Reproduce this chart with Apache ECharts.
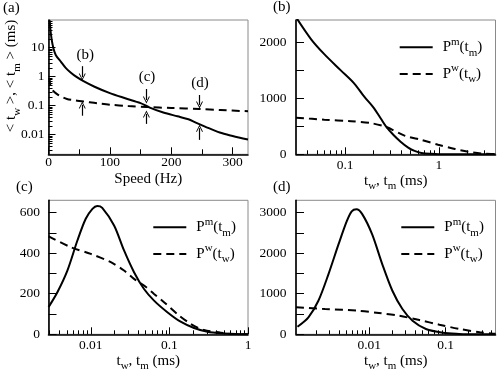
<!DOCTYPE html>
<html><head><meta charset="utf-8">
<script src="https://cdn.jsdelivr.net/npm/echarts@6/dist/echarts.min.js"></script>
<style>html,body{margin:0;padding:0;background:#fff}#c{width:498px;height:373px}</style>
</head><body><div id="c"></div>
<script>
// ---------- data ----------
// (a) mean times vs speed
const aSpeedM = [2, 3, 5, 8, 12, 20, 28, 36, 45, 57, 75, 100, 125, 150, 165, 187, 210, 228, 240, 255, 279, 300, 325];
const aTm     = [88, 45, 20, 9.5, 5.5, 3.3, 2.0, 1.4, 1.0, 0.7, 0.45, 0.27, 0.18, 0.122, 0.086, 0.058, 0.043, 0.034, 0.026, 0.019, 0.0118, 0.009, 0.0068];
const aSpeedW = [1.5, 3, 6, 10, 14, 20, 30, 40, 57, 80, 100, 130, 160, 200, 246, 280, 325];
const aTw     = [0.9, 0.5, 0.36, 0.29, 0.25, 0.21, 0.17, 0.155, 0.14, 0.12, 0.108, 0.097, 0.09, 0.083, 0.077, 0.071, 0.064];
// arrows and labels in (a)
const arrowLabels = ['(b)', '(c)', '(d)'];
const labelSpeed  = [60, 160.5, 247];
const labelVal    = [5.5, 0.97, 0.6];
const arrowSpeed  = [55, 159.5, 246];
const downFrom    = [2.3, 0.375, 0.233];
const downTo      = [0.97, 0.157, 0.106];
const upFrom      = [0.045, 0.0235, 0.0066];
const upTo        = [0.106, 0.052, 0.0167];
// (b)
const bTmT = [0.03, 0.0433, 0.06, 0.09, 0.126, 0.16, 0.2, 0.24, 0.275, 0.33, 0.39, 0.47, 0.55, 0.65, 0.83, 1.0, 1.5, 4];
const bTm  = [2450, 2060, 1790, 1500, 1260, 1030, 840, 640, 490, 340, 226, 120, 60, 25, 8, 2, 0, 0];
const bTwT = [0.03, 0.06, 0.116, 0.19, 0.275, 0.43, 0.65, 0.98, 1.48, 2.05, 2.8, 3.6, 4];
const bTw  = [655, 618, 592, 556, 487, 334, 257, 172, 95, 47, 15, 5, 3];
// (c)
const cTmT = [0.0029, 0.00304, 0.00376, 0.00504, 0.00676, 0.00863, 0.0105, 0.0121, 0.014, 0.0198, 0.0265, 0.0355, 0.0476, 0.0638, 0.0942, 0.139, 0.206, 0.304, 0.5, 0.7, 1];
const cTm  = [135, 146, 207, 314, 462, 569, 618, 632, 623, 536, 413, 306, 223, 166, 109, 62, 31, 13, 4, 1, 0];
const cTwT = [0.0029, 0.00304, 0.00557, 0.01, 0.018, 0.0265, 0.0355, 0.0476, 0.0638, 0.0855, 0.126, 0.187, 0.275, 0.45, 0.6, 1];
const cTw  = [482, 479, 429, 396, 355, 314, 273, 240, 199, 158, 100, 51, 21, 8, 2, 0];
// (d)
const dTmT = [0.00115, 0.0016, 0.00216, 0.00293, 0.00397, 0.0051, 0.0059, 0.0068, 0.0081, 0.0109, 0.0148, 0.0201, 0.0272, 0.0369, 0.0553, 0.0919, 0.15, 0.2, 0.45];
const dTm  = [187, 418, 826, 1483, 2220, 2793, 3030, 3080, 2960, 2466, 1729, 1072, 622, 334, 130, 39, 8, 2, 0];
const dTwT = [0.0011, 0.00264, 0.00728, 0.0134, 0.0246, 0.0453, 0.083, 0.153, 0.28, 0.42, 0.45];
const dTw  = [664, 622, 580, 524, 457, 352, 236, 130, 49, 15, 12];
// ticks
const aXMajor = [0, 100, 200, 300], aXMinor = [50, 150, 250];
const aYMajor = [0.01, 0.1, 1, 10];
const bXMajor = [0.1, 1], bYMajor = [0, 1000, 2000], bYMinor = [500, 1500];
const cXMajor = [0.01, 0.1, 1], cYMajor = [0, 200, 400, 600], cYMinor = [100, 300, 500];
const dXMajor = [0.01, 0.1], dYMajor = [0, 1000, 2000, 3000], dYMinor = [500, 1500, 2500];

// ---------- helpers ----------
const FONT = 'Liberation Serif';
const K = '#000';
function logMinors(min, max) {
  const out = [];
  for (let e = -4; e <= 3; e++) for (let k = 2; k <= 9; k++) {
    const v = +(k * Math.pow(10, e)).toPrecision(6);
    if (v > min * 1.001 && v < max * 0.999) out.push(v);
  }
  return out;
}
const fmt = v => String(+(+v).toPrecision(6));
function mainAxis(type, g, min, max, majors, len, margin, pos, extra) {
  return Object.assign({
    type, gridIndex: g, min, max, position: pos,
    axisLine: {show: true, onZero: false, lineStyle: {color: K, width: 1.6}},
    axisTick: {show: true, inside: true, length: len, customValues: majors, lineStyle: {color: K, width: 1}},
    axisLabel: {show: true, customValues: majors, margin, color: K, fontFamily: FONT, fontSize: 13.5, formatter: fmt},
    splitLine: {show: false}
  }, extra || {});
}
function minorAxis(type, g, min, max, minors, len, pos) {
  return {
    type, gridIndex: g, min, max, position: pos,
    axisLine: {show: false, onZero: false}, axisLabel: {show: false}, splitLine: {show: false},
    axisTick: {show: true, inside: true, length: len, customValues: minors, lineStyle: {color: K, width: 1}}
  };
}
const zip = (xs, ys) => xs.map((x, i) => [x, ys[i]]);
const subRich = {
  n: {fontFamily: FONT, fontSize: 15, lineHeight: 22, color: K},
  sb: {fontFamily: FONT, fontSize: 11, lineHeight: 10, verticalAlign: 'bottom', color: K},
  sp: {fontFamily: FONT, fontSize: 11, lineHeight: 14, verticalAlign: 'top', color: K},
  g: {width: 5, fontSize: 15, lineHeight: 22}
};
const tName = '{n|t}{sb|w}{n|, t}{sb|m}{n| (ms)}';
const SOLID = {color: K, width: 2, type: 'solid'};
const DASH = {color: K, width: 2, type: [8, 5]};
function curve(name, g, xs, ys, style) {
  return {type: 'line', name, xAxisIndex: 2 * g, yAxisIndex: 2 * g, data: zip(xs, ys),
    symbol: 'none', smooth: 0.3, lineStyle: style, itemStyle: {color: K}, silent: true, animation: false};
}
const CHEV = 'path://M0,10 L5,0 L10,10 L8.6,10 L5,2.6 L1.4,10 Z';

const grids = [
  {left: 48.5, top: 20, width: 199.5, height: 134.3},
  {left: 296, top: 20, width: 199.5, height: 134.3},
  {left: 48.5, top: 200.3, width: 199.5, height: 134},
  {left: 296, top: 200.3, width: 199.5, height: 134}
].map(g => Object.assign(g, {show: true, borderColor: '#8a8a8a', borderWidth: 1, containLabel: false, outerBoundsMode: 'none'}));

const xAxes = [
  mainAxis('value', 0, 0, 325, aXMajor, 7, 1.5, 'bottom', {name: 'Speed (Hz)', nameLocation: 'middle', nameGap: 17, nameTextStyle: {fontFamily: FONT, fontSize: 15, color: K}}),
  minorAxis('value', 0, 0, 325, aXMinor, 5, 'bottom'),
  mainAxis('log', 1, 0.03, 4, bXMajor, 7, 4, 'bottom', {name: tName, nameLocation: 'middle', nameGap: 13, nameTextStyle: {rich: subRich}}),
  minorAxis('log', 1, 0.03, 4, logMinors(0.03, 4), 4, 'bottom'),
  mainAxis('log', 2, 0.0029, 1, cXMajor, 7, 4, 'bottom', {name: tName, nameLocation: 'middle', nameGap: 10, nameTextStyle: {rich: subRich}}),
  minorAxis('log', 2, 0.0029, 1, logMinors(0.0029, 1), 4, 'bottom'),
  mainAxis('log', 3, 0.0011, 0.45, dXMajor, 7, 4, 'bottom', {name: tName, nameLocation: 'middle', nameGap: 10, nameTextStyle: {rich: subRich}}),
  minorAxis('log', 3, 0.0011, 0.45, logMinors(0.0011, 0.45), 4, 'bottom')
];
const yAxes = [
  mainAxis('log', 0, 0.0021, 90, aYMajor, 7, 4, 'left'),
  minorAxis('log', 0, 0.0021, 90, logMinors(0.0021, 90), 4, 'left'),
  mainAxis('value', 1, 0, 2400, bYMajor, 8, 9.5, 'left'),
  minorAxis('value', 1, 0, 2400, bYMinor, 8, 'left'),
  mainAxis('value', 2, 0, 660, cYMajor, 8, 8.5, 'left'),
  minorAxis('value', 2, 0, 660, cYMinor, 8, 'left'),
  mainAxis('value', 3, 0, 3300, dYMajor, 8, 9.5, 'left'),
  minorAxis('value', 3, 0, 3300, dYMinor, 8, 'left')
];

const arrowLines = [];
arrowSpeed.forEach((s, i) => {
  arrowLines.push([{coord: [s, downFrom[i]]}, {coord: [s, downTo[i]]}]);
  arrowLines.push([{coord: [s, upFrom[i]]}, {coord: [s, upTo[i]]}]);
});

const series = [
  curve('am', 0, aSpeedM, aTm, SOLID),
  curve('aw', 0, aSpeedW, aTw, DASH),
  {
    type: 'scatter', xAxisIndex: 0, yAxisIndex: 0, symbolSize: 0, silent: true, animation: false,
    itemStyle: {color: K, opacity: 1},
    data: labelSpeed.map((s, i) => ({value: [s, labelVal[i]], name: arrowLabels[i]})),
    label: {show: true, position: 'inside', formatter: p => p.name, fontFamily: FONT, fontSize: 15, color: K, textBorderWidth: 0},
    markLine: {silent: true, animation: false, symbol: ['none', CHEV], symbolSize: [7, 7],
      label: {show: false}, lineStyle: {color: K, width: 1.2, type: 'solid', opacity: 1}, emphasis: {disabled: true},
      data: arrowLines}
  },
  curve('bm', 1, bTmT, bTm, SOLID),
  curve('bw', 1, bTwT, bTw, DASH),
  curve('cm', 2, cTmT, cTm, SOLID),
  curve('cw', 2, cTwT, cTw, DASH),
  curve('dm', 3, dTmT, dTm, SOLID),
  curve('dw', 3, dTwT, dTw, DASH)
];

const legFmt = name => name.endsWith('m') ? '{g| }{n|P}{sp|m}{n|(t}{sb|m}{n|)}' : '{g| }{n|P}{sp|w}{n|(t}{sb|w}{n|)}';
function leg(left, top, names) {
  return {left, top, orient: 'vertical', itemWidth: 33, itemHeight: 14, itemGap: 4.7, padding: 0,
    selectedMode: false, data: names, formatter: legFmt, textStyle: {rich: subRich},
    itemStyle: {opacity: 0}};
}
const titleStyle = {fontFamily: FONT, fontSize: 15, fontWeight: 'normal', color: K};

const chart = echarts.init(document.getElementById('c'), null, {renderer: 'canvas'});
chart.setOption({
  animation: false,
  backgroundColor: '#fff',
  textStyle: {fontFamily: FONT},
  title: [
    {text: '(a)', left: 3, top: 1, padding: 0, textStyle: titleStyle},
    {text: '(b)', left: 273, top: 0, padding: 0, textStyle: titleStyle},
    {text: '(c)', left: 16, top: 180, padding: 0, textStyle: titleStyle},
    {text: '(d)', left: 273, top: 180, padding: 0, textStyle: titleStyle}
  ],
  graphic: [{
    type: 'text', x: 11.5, y: 76, rotation: Math.PI / 2, silent: true,
    style: {text: '{n|< t}{sb|w}{n| >, < t}{sb|m}{n| > (ms)}', rich: subRich, align: 'center', verticalAlign: 'middle', fill: K}
  }],
  legend: [leg(398.7, 36.3, ['bm', 'bw']), leg(152.3, 216.3, ['cm', 'cw']), leg(400.3, 216.3, ['dm', 'dw'])],
  grid: grids,
  xAxis: xAxes,
  yAxis: yAxes,
  series
});
</script></body></html>
